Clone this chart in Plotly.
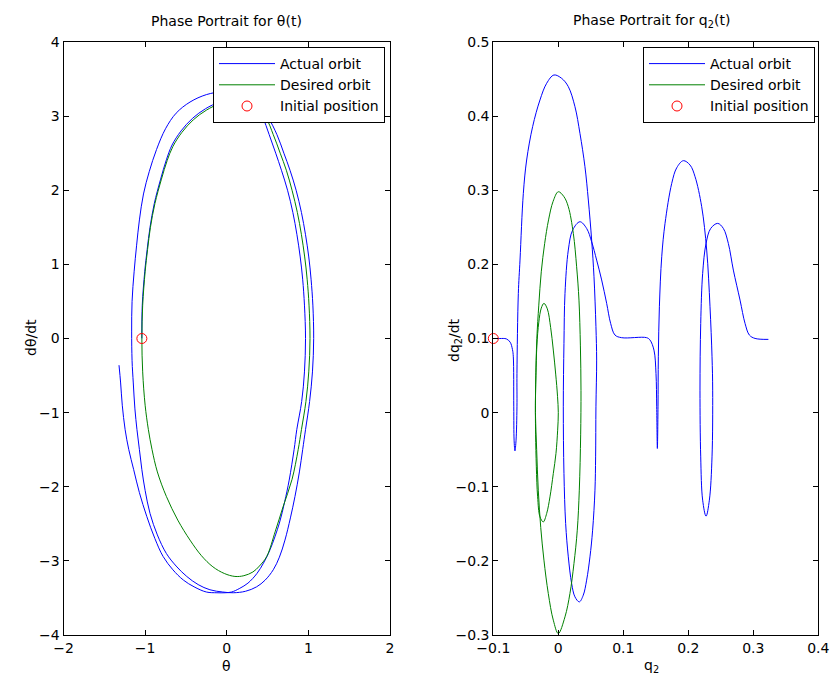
import plotly.graph_objects as go

# ---------------- data: left panel (theta, dtheta/dt) ----------------
theta_actual_pts = [
    # first turn, inner left side going up
    (-1.04, 0.0), (-1.035, 0.45), (-1.005, 0.9), (-0.975, 1.2), (-0.94, 1.5), (-0.888, 1.82),
    (-0.81, 2.15), (-0.74, 2.41), (-0.67, 2.61), (-0.56, 2.80), (-0.42, 2.97), (-0.26, 3.10),
    (-0.09, 3.19), (0.06, 3.23), (0.20, 3.20), (0.33, 3.12), (0.43, 3.05), (0.51, 2.97),
    # outer right side going down
    (0.615, 2.75), (0.70, 2.5), (0.775, 2.27), (0.85, 2.0), (0.915, 1.7), (0.965, 1.4),
    (1.005, 1.1), (1.033, 0.8), (1.055, 0.45), (1.065, 0.0), (1.05, -0.45), (1.015, -0.85),
    (0.965, -1.23), (0.93, -1.5), (0.89, -1.8), (0.836, -2.13), (0.78, -2.42), (0.713, -2.72),
    (0.645, -2.95), (0.57, -3.12), (0.47, -3.26), (0.366, -3.35), (0.23, -3.41), (0.08, -3.43),
    # bottom, then middle left strand going up
    (-0.05, -3.42), (-0.206, -3.39), (-0.35, -3.32), (-0.49, -3.21), (-0.62, -3.07),
    (-0.74, -2.90), (-0.85, -2.65), (-0.94, -2.36), (-1.0, -2.05), (-1.04, -1.77),
    (-1.07, -1.5), (-1.10, -1.23), (-1.125, -0.95), (-1.145, -0.6), (-1.16, -0.3),
    (-1.165, 0.1), (-1.16, 0.5), (-1.135, 0.9), (-1.105, 1.25), (-1.07, 1.6), (-1.02, 1.95),
    (-0.95, 2.25), (-0.86, 2.55), (-0.75, 2.83), (-0.62, 3.04), (-0.45, 3.19), (-0.25, 3.29),
    (-0.05, 3.33), (0.12, 3.32), (0.27, 3.24), (0.38, 3.12), (0.44, 2.99),
    # inner right side going down
    (0.52, 2.75), (0.60, 2.5), (0.67, 2.27), (0.745, 2.0), (0.81, 1.7), (0.86, 1.4),
    (0.90, 1.1), (0.93, 0.8), (0.952, 0.45), (0.965, 0.0), (0.952, -0.45), (0.918, -0.85),
    (0.858, -1.23), (0.825, -1.5), (0.765, -1.91), (0.71, -2.2), (0.645, -2.49), (0.53, -2.85),
    (0.45, -3.03), (0.37, -3.17), (0.26, -3.30), (0.16, -3.37), (0.06, -3.42), (-0.02, -3.43),
    # final tail on the outer left
    (-0.12, -3.43), (-0.25, -3.42), (-0.40, -3.35), (-0.53, -3.26), (-0.66, -3.12),
    (-0.78, -2.94), (-0.88, -2.70), (-0.98, -2.40), (-1.07, -2.08), (-1.14, -1.77),
    (-1.20, -1.50), (-1.245, -1.23), (-1.28, -0.9), (-1.30, -0.6), (-1.32, -0.36),
]
theta_desired_pts = [
    (-1.04, 0.0), (-1.03, 0.45), (-1.0, 0.9), (-0.97, 1.2), (-0.935, 1.5), (-0.88, 1.82),
    (-0.80, 2.15), (-0.73, 2.40), (-0.66, 2.59), (-0.55, 2.78), (-0.41, 2.95), (-0.25, 3.08),
    (-0.08, 3.17), (0.08, 3.20), (0.22, 3.16), (0.36, 3.07), (0.48, 2.97), (0.57, 2.75),
    (0.655, 2.5), (0.73, 2.27), (0.80, 2.0), (0.865, 1.7), (0.915, 1.4), (0.955, 1.1),
    (0.985, 0.8), (1.008, 0.45), (1.02, 0.0), (1.005, -0.45), (0.97, -0.85), (0.915, -1.23),
    (0.875, -1.5), (0.80, -1.9), (0.69, -2.27), (0.595, -2.6), (0.49, -2.94), (0.40, -3.07),
    (0.32, -3.15), (0.21, -3.20), (0.10, -3.21), (-0.03, -3.17), (-0.17, -3.08), (-0.31, -2.93),
    (-0.45, -2.72), (-0.60, -2.45), (-0.74, -2.13), (-0.85, -1.8), (-0.915, -1.5),
    (-0.96, -1.23), (-1.0, -0.9), (-1.03, -0.45), (-1.04, 0.0),
]
theta_actual = [p[0] for p in theta_actual_pts]
dtheta_actual = [p[1] for p in theta_actual_pts]
theta_desired = [p[0] for p in theta_desired_pts]
dtheta_desired = [p[1] for p in theta_desired_pts]
theta_init = [-1.04]
dtheta_init = [0.0]

# ---------------- data: right panel (q2, dq2/dt) ----------------
q2_actual_pts = [
    (-0.100, 0.100), (-0.090, 0.100), (-0.080, 0.0995), (-0.074, 0.095), (-0.0705, 0.085),
    (-0.0692, 0.0753), (-0.0685, 0.0078), (-0.0680, -0.0372), (-0.0667, -0.0516),
    (-0.0650, -0.0372), (-0.0636, 0.0078), (-0.0636, 0.0528), (-0.0615, 0.1608),
    (-0.0589, 0.2058), (-0.0538, 0.2958), (-0.0487, 0.3408), (-0.0395, 0.3858),
    (-0.0282, 0.4218), (-0.0179, 0.4443), (-0.0067, 0.4555), (0.0051, 0.4510),
    (0.0154, 0.4398), (0.0256, 0.4128), (0.0333, 0.3768), (0.0410, 0.3318), (0.0462, 0.2868),
    (0.0513, 0.2328), (0.0549, 0.1833), (0.0579, 0.1159), (0.0590, 0.0709), (0.0579, 0.0078),
    (0.0574, -0.0597), (0.0564, -0.1046), (0.0528, -0.1586), (0.0487, -0.1946),
    (0.0436, -0.2260), (0.0384, -0.2463), (0.0323, -0.2553), (0.0256, -0.2485),
    (0.0205, -0.2305), (0.0154, -0.1946), (0.0113, -0.1496), (0.0087, -0.0821),
    (0.0077, 0.0078), (0.0087, 0.0934), (0.0103, 0.1608), (0.0154, 0.2193), (0.0221, 0.2463),
    (0.0333, 0.2575), (0.0436, 0.2485), (0.0513, 0.2305), (0.0590, 0.2058), (0.0667, 0.1790),
    (0.0744, 0.1474), (0.0805, 0.1204), (0.0872, 0.1047), (0.0974, 0.1011), (0.1359, 0.1011),
    (0.1411, 0.0979), (0.1472, 0.0843), (0.1503, 0.0528), (0.1514, 0.0078), (0.1524, -0.0484),
    (0.1534, 0.0078), (0.1539, 0.0753), (0.1555, 0.1428), (0.1591, 0.2103), (0.1642, 0.2553),
    (0.1745, 0.3093), (0.1822, 0.3303), (0.1924, 0.3399), (0.2027, 0.3340), (0.2104, 0.3183),
    (0.2206, 0.2778), (0.2283, 0.2193), (0.2334, 0.1428), (0.2365, 0.0753), (0.2375, 0.0303),
    (0.2365, -0.0597), (0.2324, -0.1181), (0.2273, -0.1397), (0.2221, -0.1181),
    (0.2191, -0.0597), (0.2180, 0.0303), (0.2191, 0.1203), (0.2221, 0.1878), (0.2273, 0.2283),
    (0.2345, 0.2485), (0.2452, 0.2553), (0.2539, 0.2485), (0.2616, 0.2283), (0.2693, 0.1923),
    (0.2796, 0.1518), (0.2873, 0.1203), (0.2940, 0.1046), (0.3027, 0.1001), (0.3232, 0.0988),
]
q2_desired_pts = [
    # small inner loop
    (-0.0352, 0.0), (-0.0344, 0.05), (-0.0330, 0.09), (-0.0300, 0.122), (-0.0262, 0.141),
    (-0.0221, 0.1474), (-0.0169, 0.1400), (-0.0118, 0.1150), (-0.0077, 0.0844),
    (-0.0040, 0.0520), (-0.0012, 0.0220), (0.0, 0.0), (-0.0010, -0.0237), (-0.0036, -0.0552),
    (-0.0077, -0.0821), (-0.0128, -0.1136), (-0.0179, -0.1361), (-0.0231, -0.1474),
    (-0.0282, -0.1406), (-0.0318, -0.1136), (-0.0338, -0.0731), (-0.0349, -0.0300),
    (-0.0352, 0.0),
    # large outer loop
    (-0.0348, 0.04), (-0.0330, 0.10), (-0.0300, 0.145), (-0.0262, 0.19), (-0.0210, 0.228),
    (-0.0150, 0.260), (-0.0080, 0.285), (0.0, 0.298), (0.0087, 0.2913), (0.0154, 0.2778),
    (0.0231, 0.2418), (0.0282, 0.1968), (0.0318, 0.1518), (0.0340, 0.0900), (0.0349, 0.030),
    (0.0344, -0.0300), (0.0323, -0.1046), (0.0292, -0.1586), (0.0241, -0.2036),
    (0.0179, -0.2440), (0.0103, -0.2755), (0.0, -0.2980), (-0.0077, -0.2800),
    (-0.0154, -0.2440), (-0.0221, -0.1990), (-0.0270, -0.1550), (-0.0308, -0.1046),
    (-0.0333, -0.0500), (-0.0352, 0.0),
]
q2_actual = [p[0] for p in q2_actual_pts]
dq2_actual = [p[1] for p in q2_actual_pts]
q2_desired = [p[0] for p in q2_desired_pts]
dq2_desired = [p[1] for p in q2_desired_pts]
q2_init = [-0.1]
dq2_init = [0.1]

series_names = ["Actual orbit", "Desired orbit", "Initial position"]
left_xticks = [-2, -1, 0, 1, 2]
left_yticks = [-4, -3, -2, -1, 0, 1, 2, 3, 4]
right_xticks = [-0.1, 0, 0.1, 0.2, 0.3, 0.4]
right_yticks = [-0.3, -0.2, -0.1, 0, 0.1, 0.2, 0.3, 0.4, 0.5]

# ---------------- figure ----------------
W, H = 834, 688
FONT = "DejaVu Sans"
BLUE = "#0000ff"
GREEN = "#008000"
RED = "#ff0000"


def px_x(p):
    return p / W


def px_y(p):
    return 1 - p / H


fig = go.Figure()

line_style = dict(width=1, shape="spline", smoothing=1.0)
marker_style = dict(symbol="circle-open", size=10, color=RED, line=dict(width=1, color=RED))

fig.add_trace(go.Scatter(x=theta_actual, y=dtheta_actual, mode="lines", name=series_names[0],
                         line=dict(color=BLUE, **line_style),
                         xaxis="x", yaxis="y", legend="legend"))
fig.add_trace(go.Scatter(x=theta_desired, y=dtheta_desired, mode="lines", name=series_names[1],
                         line=dict(color=GREEN, **line_style),
                         xaxis="x", yaxis="y", legend="legend"))
fig.add_trace(go.Scatter(x=theta_init, y=dtheta_init, mode="markers", name=series_names[2],
                         marker=marker_style, xaxis="x", yaxis="y", legend="legend", cliponaxis=False))

fig.add_trace(go.Scatter(x=q2_actual, y=dq2_actual, mode="lines", name=series_names[0],
                         line=dict(color=BLUE, **line_style),
                         xaxis="x2", yaxis="y2", legend="legend2"))
fig.add_trace(go.Scatter(x=q2_desired, y=dq2_desired, mode="lines", name=series_names[1],
                         line=dict(color=GREEN, **line_style),
                         xaxis="x2", yaxis="y2", legend="legend2"))
fig.add_trace(go.Scatter(x=q2_init, y=dq2_init, mode="markers", name=series_names[2],
                         marker=marker_style, xaxis="x2", yaxis="y2", legend="legend2", cliponaxis=False))

axis_common = dict(showline=True, linecolor="black", linewidth=1, mirror="ticks",
                   ticks="inside", ticklen=5, tickcolor="black", tickwidth=1,
                   showgrid=False, zeroline=False, automargin=False,
                   tickfont=dict(family=FONT, size=14, color="black"))

y_top, y_bot = px_y(42), px_y(635)
lx0, lx1 = px_x(63.5), px_x(390)
rx0, rx1 = px_x(493.3), px_x(818.3)

legend_common = dict(xanchor="right", y=px_y(47), yanchor="top",
                     bgcolor="white", bordercolor="black", borderwidth=1,
                     font=dict(family=FONT, size=14, color="black"),
                     tracegroupgap=0, itemwidth=56)

text_font = dict(family=FONT, size=14, color="black")


def label(text, xp, yp, angle=0):
    return dict(text=text, x=px_x(xp), y=px_y(yp), xref="paper", yref="paper",
                showarrow=False, xanchor="center", yanchor="middle", textangle=angle,
                font=text_font)


fig.update_layout(
    template="none",
    width=W, height=H, autosize=False,
    margin=dict(l=0, r=0, t=0, b=0, pad=0),
    paper_bgcolor="white", plot_bgcolor="white",
    font=text_font,
    xaxis=dict(domain=[lx0, lx1], range=[-2, 2], tickvals=left_xticks, anchor="y", **axis_common),
    yaxis=dict(domain=[y_bot, y_top], range=[-4, 4], tickvals=left_yticks, anchor="x", **axis_common),
    xaxis2=dict(domain=[rx0, rx1], range=[-0.1, 0.4], tickvals=right_xticks, anchor="y2", **axis_common),
    yaxis2=dict(domain=[y_bot, y_top], range=[-0.3, 0.5], tickvals=right_yticks, anchor="x2", **axis_common),
    legend=dict(x=px_x(385), **legend_common),
    legend2=dict(x=px_x(815), **legend_common),
    annotations=[
        label("Phase Portrait for θ(t)", 227, 21),
        label("Phase Portrait for q<sub>2</sub>(t)", 651, 21),
        label("dθ/dt", 31, 338, -90),
        label("θ", 227, 666),
        label("dq<sub>2</sub>/dt", 455, 340, -90),
        label("q<sub>2</sub>", 651, 666),
    ],
    showlegend=True,
)

fig.write_html("out.html")
